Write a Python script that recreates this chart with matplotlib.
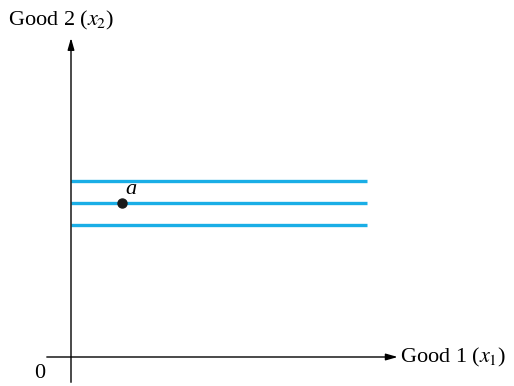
import matplotlib
matplotlib.use("Agg")
import matplotlib.pyplot as plt

# indifference levels (good 2 held fixed), point a on the middle one
levels = [8, 7, 6]
line_x = [0, 13.45]
point_a = (2.3, 7)
point_label = "a"
x_label = r"Good 1 ($x_1$)"
y_label = r"Good 2 ($x_2$)"
origin_label = "0"

plt.rcParams["font.family"] = "Liberation Serif"
plt.rcParams["mathtext.fontset"] = "stix"

fig = plt.figure(figsize=(5.14, 3.86), dpi=100)
ax = fig.add_axes([0, 0, 1, 1])
ax.set_xlim(-71 / 22, 443 / 22)
ax.set_ylim(-29 / 22, 357 / 22)
ax.axis("off")

blue = "#1aaee6"
for lv in levels:
    ax.plot(line_x, [lv, lv], color=blue, lw=2.4, solid_capstyle="butt")

# axes with arrow heads
arrow = dict(arrowstyle="-|>,head_length=0.7,head_width=0.2", color="black", lw=1.0,
             shrinkA=0, shrinkB=0)
ax.annotate("", xy=(14.85, 0), xytext=(-1.1, 0), arrowprops=arrow)
ax.annotate("", xy=(0, 14.5), xytext=(0, -1.15), arrowprops=arrow)

ax.plot(*point_a, "o", color="#1a1a1a", ms=6.5, zorder=5)
ax.text(point_a[0] + 0.15, point_a[1] + 0.2, point_label, fontsize=16,
        style="italic", ha="left", va="bottom")

ax.text(14.95, 0, x_label, fontsize=16, ha="left", va="center")
ax.text(-2.86, 15.3, y_label, fontsize=16, ha="left", va="center")
ax.text(-1.41, -0.75, origin_label, fontsize=16, ha="center", va="center")

fig.savefig("out.png", dpi=100)
